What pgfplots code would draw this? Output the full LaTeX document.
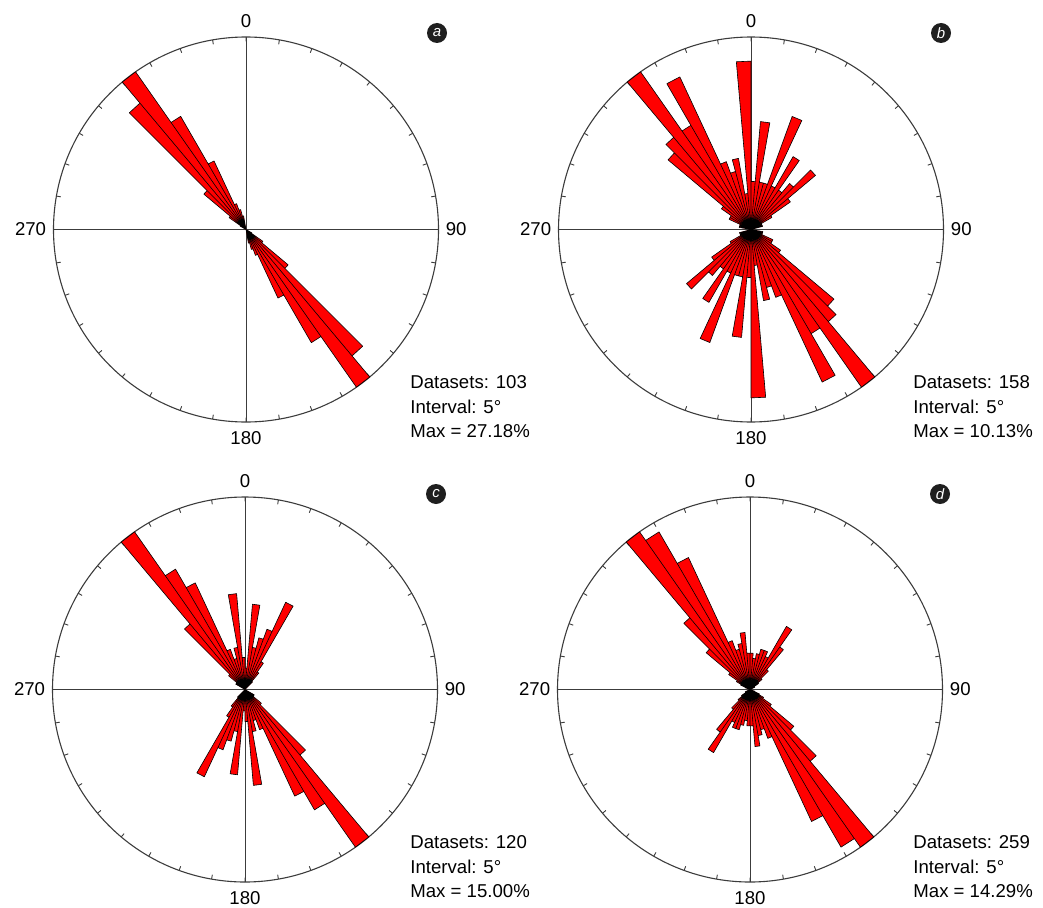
\documentclass[border=0pt]{standalone}
\usepackage{pgfplots}
\pgfplotsset{compat=1.18}
\usepgfplotslibrary{polar}
\usepackage{fontspec}
\setmainfont{Liberation Sans}
\definecolor{petal}{RGB}{255,0,0}
\definecolor{frame}{RGB}{60,60,60}
\newcommand\txtfont{\fontsize{9.3}{12.4}\selectfont}

% azimuth (start of 5 degree bin, clockwise from north) / percentage
\def\roseA{300/0.97, 305/2.91, 310/7.77, 315/23.30, 320/27.18, 325/18.45, 330/10.68, 335/3.88, 340/2.91, 345/1.94}
\def\roseB{280/0.63, 285/0.63, 290/0.63, 295/1.27, 300/1.27, 305/1.90, 310/5.70, 315/6.33, 320/10.13, 325/6.33, 330/8.86, 335/3.80, 340/3.16, 345/3.80, 350/1.90, 355/8.86, 0/2.53, 5/5.70, 10/2.53, 15/2.53, 20/6.33, 25/2.53, 30/4.43, 35/2.53, 40/3.16, 45/4.43, 50/2.53, 55/1.27, 60/0.63, 70/0.63}
\def\roseC{300/0.83, 305/0.83, 310/1.67, 315/6.67, 320/15.00, 325/10.83, 330/9.17, 335/3.33, 340/2.50, 345/3.33, 350/7.50, 355/2.50, 0/1.67, 5/6.67, 10/3.33, 15/4.17, 20/5.00, 25/7.50, 30/2.50, 35/1.67, 40/0.83}
\def\roseD{290/0.39, 295/0.77, 300/1.16, 305/1.93, 310/4.25, 315/6.95, 320/14.29, 325/13.51, 330/10.81, 335/3.86, 340/3.09, 345/3.47, 350/4.25, 355/2.70, 0/2.70, 5/2.32, 10/2.70, 15/3.09, 20/3.09, 25/2.70, 30/5.41, 35/3.86, 40/1.93, 45/1.16, 50/0.77, 60/0.39}

\newcommand\roseplot[1]{%
  \gdef\rosepts{}%
  \foreach \az/\v in #1{%
    \pgfmathsetmacro\ta{mod(450-\az,360)}%
    \pgfmathsetmacro\tb{mod(445-\az,360)}%
    \pgfmathsetmacro\tc{mod(630-\az,360)}%
    \pgfmathsetmacro\td{mod(625-\az,360)}%
    \xdef\rosepts{\rosepts (0,0) (\ta,\v) (\tb,\v) (0,0) (\tc,\v) (\td,\v)}%
  }%
  \edef\doplot{\noexpand\addplot[fill=petal, draw=black, line width=0.3pt, line join=round, mark=none] coordinates {\rosepts (0,0)};}%
  \doplot
}

\newcommand\compass[1]{%
  \draw[frame, line width=0.5pt] (axis cs:0,#1) -- (axis cs:180,#1) (axis cs:90,#1) -- (axis cs:270,#1);
}
\newcommand\compasslabels[1]{%
  \node[anchor=south, inner sep=0, yshift=4.4pt, font=\txtfont] at (axis cs:90,#1) {0};
  \node[anchor=west, inner sep=0, xshift=3.5pt, font=\txtfont] at (axis cs:0,#1) {90};
  \node[anchor=north, inner sep=0, yshift=-4.4pt, font=\txtfont] at (axis cs:270,#1) {180};
  \node[anchor=east, inner sep=0, xshift=-3.5pt, font=\txtfont] at (axis cs:180,#1) {270};
}

\pgfplotsset{rose/.style={
  width=192.5pt, height=192.5pt, scale only axis,
  anchor=center,
  xmin=0, xmax=360, ymin=0,
  xtick={0,10,...,350}, xticklabel=\empty,
  ytick=\empty,
  axis line style={frame, line width=0.55pt},
  y axis line style={draw=none},
  xtick style={frame, line width=0.45pt},
  major tick length=2.2pt,
  xtick align=outside,
  grid=none,
  enlargelimits=false,
  clip=false,
}}

\begin{document}
\begin{tikzpicture}
\useasboundingbox (0,0) rectangle (521.5pt,453.5pt);

\begin{polaraxis}[rose, at={(123pt,338.75pt)}, ymax=27.18]
  \compass{27.18}
  \roseplot{\roseA}
  \compasslabels{27.18}
\end{polaraxis}

\begin{polaraxis}[rose, at={(375.5pt,338.75pt)}, ymax=10.13]
  \compass{10.13}
  \roseplot{\roseB}
  \compasslabels{10.13}
\end{polaraxis}

\begin{polaraxis}[rose, at={(122.5pt,108.75pt)}, ymax=15.00]
  \compass{15.00}
  \roseplot{\roseC}
  \compasslabels{15.00}
\end{polaraxis}

\begin{polaraxis}[rose, at={(375pt,108.75pt)}, ymax=14.29]
  \compass{14.29}
  \roseplot{\roseD}
  \compasslabels{14.29}
\end{polaraxis}

\tikzset{badge/.style={circle, fill=black!88, inner sep=0, minimum size=10pt, text=white, font=\fontsize{7.5}{7.5}\selectfont\itshape},
         info/.style={anchor=north west, inner sep=0, align=left, font=\txtfont}}
\node[badge] at (218.5pt,437pt) {a};
\node[badge] at (470.5pt,437pt) {b};
\node[badge] at (218pt,206.5pt) {c};
\node[badge] at (470pt,206.5pt) {d};

\node[info] at (205pt,266pt) {Datasets: 103\\Interval: 5°\\Max = 27.18\%};
\node[info] at (456.5pt,266pt) {Datasets: 158\\Interval: 5°\\Max = 10.13\%};
\node[info] at (205pt,36pt) {Datasets: 120\\Interval: 5°\\Max = 15.00\%};
\node[info] at (456.5pt,36pt) {Datasets: 259\\Interval: 5°\\Max = 14.29\%};
\end{tikzpicture}
\end{document}
